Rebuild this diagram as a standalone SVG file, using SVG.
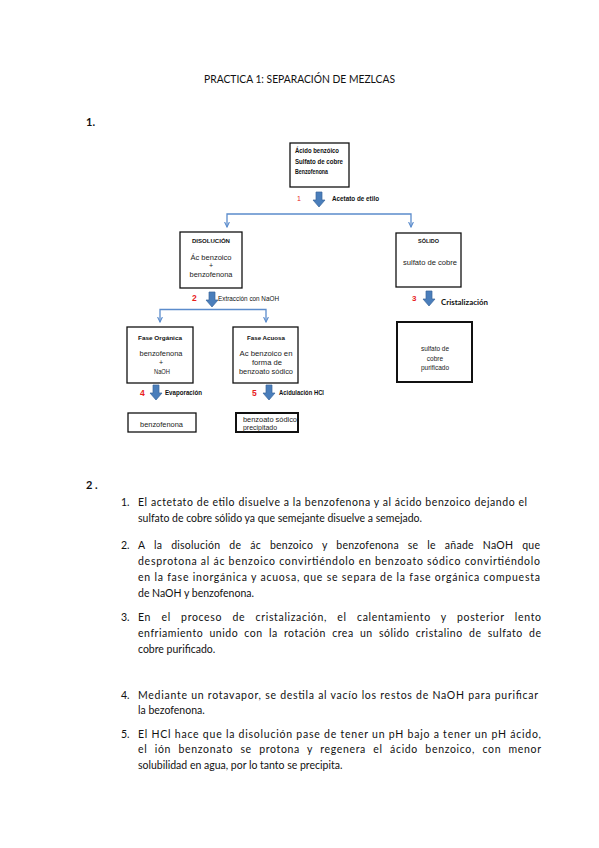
<svg xmlns="http://www.w3.org/2000/svg" xmlns:xlink="http://www.w3.org/1999/xlink" width="599" height="848" viewBox="0 0 599 848">
<style>
.body{font-family:Lato,"Liberation Sans",sans-serif;font-size:10.5px;fill:#111}
.num{font-family:Lato,"Liberation Sans",sans-serif;font-size:10.5px;fill:#111}
.head{font-family:Lato,"Liberation Sans",sans-serif;font-weight:bold;font-size:11px;fill:#111}
.title{font-family:Lato,"Liberation Sans",sans-serif;font-size:11.5px;fill:#111}
.box{fill:#fff;stroke:#111;stroke-width:1.3}
.boxb{fill:#fff;stroke:#111;stroke-width:2}
.t{font-family:"Liberation Sans",Arial,sans-serif;font-size:7px;fill:#222}
.tb{font-family:"Liberation Sans",Arial,sans-serif;font-size:6.5px;font-weight:bold;fill:#111}
.red{font-family:"Liberation Sans",Arial,sans-serif;font-size:8.5px;font-weight:bold;fill:#e8201c}
.conn{fill:none;stroke:#5b8ccc;stroke-width:1.3}
.blk{fill:#4a7ebb;stroke:#3a669b;stroke-width:0.7}
</style>
<defs>
<marker id="chev" viewBox="0 0 6 6" refX="5.5" refY="3" markerWidth="6" markerHeight="6" markerUnits="userSpaceOnUse" orient="auto-start-reverse">
<path d="M0.5,0.6 L5.5,3 L0.5,5.4" fill="none" stroke="#5b8ccc" stroke-width="1.1"/>
</marker>
<path id="barrow" d="M-3,0 H3 V8 H6 L0,15 L-6,8 H-3 Z"/>
</defs>
<rect width="599" height="848" fill="#fff"/>

<text class="title" x="299.5" y="83" text-anchor="middle" textLength="191" lengthAdjust="spacingAndGlyphs">PRACTICA 1: SEPARACIÓN DE MEZLCAS</text>
<text class="head" x="86" y="126">1.</text>

<g id="connectors">
<path class="conn" d="M227,227 V214 H411 V227" marker-start="url(#chev)" marker-end="url(#chev)"/>
<path class="conn" d="M160,322 V309.5 H266 V322" marker-start="url(#chev)" marker-end="url(#chev)"/>
<use href="#barrow" class="blk" x="319" y="192"/>
<use href="#barrow" class="blk" x="212" y="292"/>
<use href="#barrow" class="blk" x="429" y="291"/>
<use href="#barrow" class="blk" x="156" y="385"/>
<use href="#barrow" class="blk" x="269" y="385"/>
<text x="297" y="201" style="font-family:'Liberation Sans',sans-serif;font-size:7px;fill:#e8201c">1</text>
<text class="tb" x="332" y="200.5" textLength="47" lengthAdjust="spacingAndGlyphs">Acetato de etilo</text>
<text class="red" x="192" y="301">2</text>
<text class="tb" x="218" y="300.5" textLength="61" lengthAdjust="spacingAndGlyphs" style="font-weight:normal;font-size:6.5px">Extracción con NaOH</text>
<text class="red" x="412" y="301" style="font-size:8px">3</text>
<text x="441" y="304.5" textLength="47" lengthAdjust="spacingAndGlyphs" style="font-family:Lato,'Liberation Sans',sans-serif;font-size:8px;font-weight:bold;fill:#111">Cristalización</text>
<text class="red" x="140" y="396">4</text>
<text class="tb" x="165" y="394.5" textLength="37" lengthAdjust="spacingAndGlyphs">Evaporación</text>
<text class="red" x="252" y="396">5</text>
<text class="tb" x="279" y="394.5" textLength="45" lengthAdjust="spacingAndGlyphs">Acidulación HCl</text>
</g>

<g id="node-mezcla">
<rect class="box" x="290" y="143" width="59" height="44"/>
<text class="tb" x="295" y="153" textLength="44" lengthAdjust="spacingAndGlyphs" style="font-size:7px">Ácido benzóico</text>
<text class="tb" x="295" y="163.5" textLength="48" lengthAdjust="spacingAndGlyphs" style="font-size:7px">Sulfato de cobre</text>
<text class="tb" x="295" y="173.5" textLength="33" lengthAdjust="spacingAndGlyphs" style="font-size:7px">Benzofenona</text>
</g>

<g id="node-disolucion">
<rect class="box" x="180" y="232" width="62" height="56"/>
<text class="tb" x="192" y="243" textLength="38" lengthAdjust="spacingAndGlyphs" style="font-size:6px">DISOLUCIÓN</text>
<text class="t" x="211" y="259.5" text-anchor="middle" textLength="41" lengthAdjust="spacingAndGlyphs">Ác benzoico</text>
<text class="t" x="211" y="267.5" text-anchor="middle">+</text>
<text class="t" x="211" y="276.5" text-anchor="middle" textLength="43" lengthAdjust="spacingAndGlyphs">benzofenona</text>
</g>

<g id="node-solido">
<rect class="box" x="396" y="233" width="65" height="54"/>
<text class="tb" x="418" y="243" textLength="21" lengthAdjust="spacingAndGlyphs" style="font-size:6px">SÓLIDO</text>
<text class="t" x="403" y="264.5" textLength="54" lengthAdjust="spacingAndGlyphs">sulfato de cobre</text>
</g>

<g id="node-purificado">
<rect class="boxb" x="397" y="322" width="75" height="60"/>
<text class="t" x="435" y="351" text-anchor="middle" style="font-size:6.5px">sulfato de</text>
<text class="t" x="435" y="360.5" text-anchor="middle" style="font-size:6.5px">cobre</text>
<text class="t" x="435" y="370" text-anchor="middle" style="font-size:6.5px">purificado</text>
</g>

<g id="node-organica">
<rect class="box" x="127" y="327" width="66" height="56"/>
<text class="tb" x="160" y="339.5" text-anchor="middle" textLength="44" lengthAdjust="spacingAndGlyphs" style="font-size:6px">Fase Orgánica</text>
<text class="t" x="161" y="355.5" text-anchor="middle" textLength="43" lengthAdjust="spacingAndGlyphs">benzofenona</text>
<text class="t" x="161" y="364.5" text-anchor="middle">+</text>
<text class="t" x="162" y="373.5" text-anchor="middle" textLength="16" lengthAdjust="spacingAndGlyphs">NaOH</text>
</g>

<g id="node-acuosa">
<rect class="box" x="233" y="327" width="65" height="56"/>
<text class="tb" x="266" y="339.5" text-anchor="middle" textLength="38" lengthAdjust="spacingAndGlyphs" style="font-size:6px">Fase Acuosa</text>
<text class="t" x="266" y="355.5" text-anchor="middle" textLength="53" lengthAdjust="spacingAndGlyphs">Ac benzoico en</text>
<text class="t" x="267" y="364.5" text-anchor="middle" textLength="30" lengthAdjust="spacingAndGlyphs">forma de</text>
<text class="t" x="266" y="373.5" text-anchor="middle" textLength="54" lengthAdjust="spacingAndGlyphs">benzoato sódico</text>
</g>

<g id="node-benzofenona">
<rect class="box" x="128" y="413" width="68" height="19"/>
<text class="t" x="161.5" y="427" text-anchor="middle" textLength="43" lengthAdjust="spacingAndGlyphs">benzofenona</text>
</g>

<g id="node-benzoato">
<rect class="boxb" x="236" y="413" width="62" height="19"/>
<text class="t" x="243" y="421.5" textLength="54" lengthAdjust="spacingAndGlyphs">benzoato sódico</text>
<text class="t" x="243" y="429.5" textLength="34" lengthAdjust="spacingAndGlyphs">precipitado</text>
</g>

<text class="head" x="86" y="489">2 .</text>

<g id="answers">
<text class="num" x="121" y="506">1.</text>
<text class="body" x="138" y="506" textLength="389" lengthAdjust="spacing">El actetato de etilo disuelve a la benzofenona y al ácido benzoico dejando el</text>
<text class="body" x="138" y="522">sulfato de cobre sólido ya que semejante disuelve a semejado.</text>

<text class="num" x="121" y="549">2.</text>
<text class="body" x="138" y="549" textLength="402" lengthAdjust="spacing" style="word-spacing:6px">A la disolución de ác benzoico y benzofenona se le añade NaOH que</text>
<text class="body" x="138" y="565" textLength="402" lengthAdjust="spacing">desprotona al ác benzoico convirtiéndolo en benzoato sódico convirtiéndolo</text>
<text class="body" x="138" y="581" textLength="402" lengthAdjust="spacing">en la fase inorgánica y acuosa, que se separa de la fase orgánica compuesta</text>
<text class="body" x="138" y="597">de NaOH y benzofenona.</text>

<text class="num" x="121" y="621">3.</text>
<text class="body" x="138" y="621" textLength="403" lengthAdjust="spacing" style="word-spacing:7px">En el proceso de cristalización, el calentamiento y posterior lento</text>
<text class="body" x="138" y="637" textLength="403" lengthAdjust="spacing" style="word-spacing:3px">enfriamiento unido con la rotación crea un sólido cristalino de sulfato de</text>
<text class="body" x="138" y="653">cobre purificado.</text>

<text class="num" x="121" y="699">4.</text>
<text class="body" x="138" y="699" textLength="400" lengthAdjust="spacing">Mediante un rotavapor, se destila al vacío los restos de NaOH para purificar</text>
<text class="body" x="138" y="714">la bezofenona.</text>

<text class="num" x="121" y="738">5.</text>
<text class="body" x="138" y="738" textLength="403" lengthAdjust="spacing">El HCl hace que la disolución pase de tener un pH bajo a tener un pH ácido,</text>
<text class="body" x="138" y="753" textLength="403" lengthAdjust="spacing" style="word-spacing:4px">el ión benzonato se protona y regenera el ácido benzoico, con menor</text>
<text class="body" x="138" y="769">solubilidad en agua, por lo tanto se precipita.</text>
</g>
</svg>
